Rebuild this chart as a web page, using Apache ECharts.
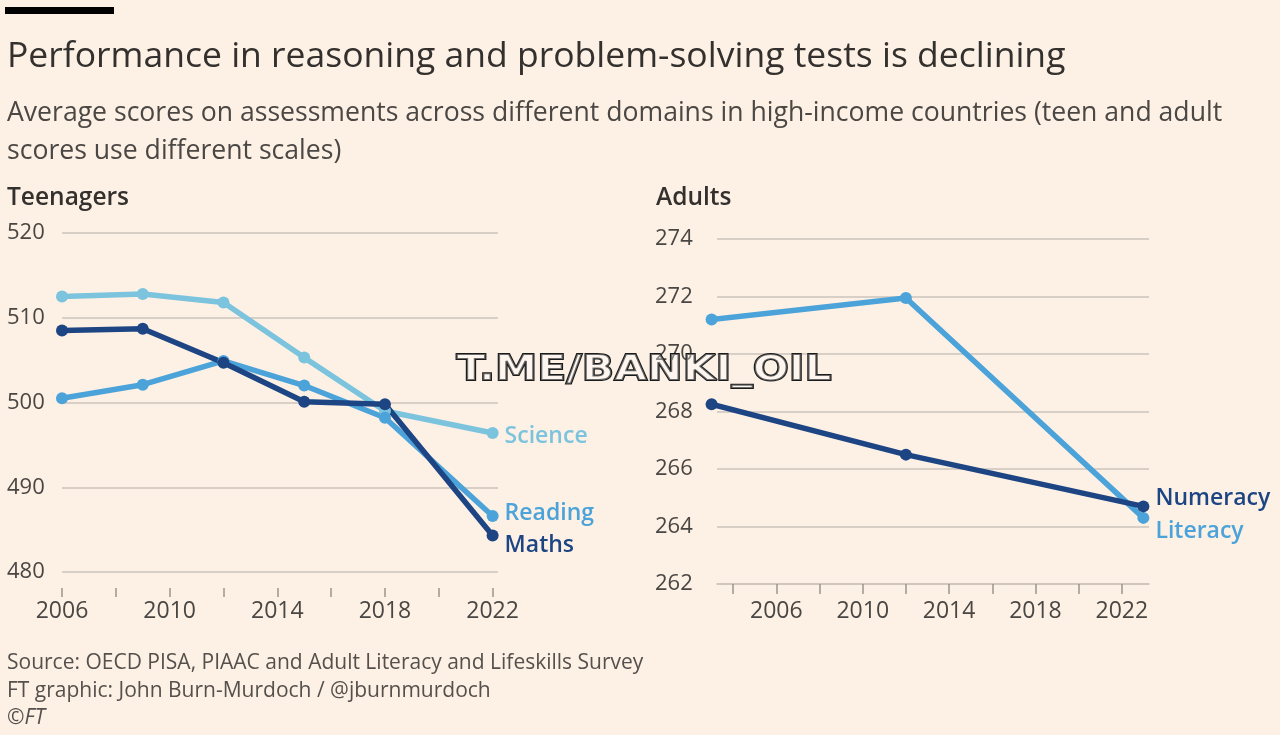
<!DOCTYPE html>
<html><head><meta charset="utf-8">
<script src="https://cdn.jsdelivr.net/npm/echarts@6/dist/echarts.min.js"></script>
<style>html,body{margin:0;padding:0;background:#fdf1e5;} #c{width:1280px;height:735px;}</style>
</head><body><div id="c"></div>
<script>
// ---- data ----
const teenYears = [2006, 2009, 2012, 2015, 2018, 2022];
const science = [512.5, 512.8, 511.8, 505.3, 499.0, 496.4];
const reading = [500.5, 502.1, 504.9, 502.0, 498.2, 486.6];
const maths = [508.5, 508.7, 504.7, 500.1, 499.8, 484.3];
const adultYears = [2003, 2012, 2023];
const literacy = [271.2, 271.95, 264.3];
const numeracy = [268.25, 266.5, 264.7];
const teenXTicks = [2006, 2008, 2010, 2012, 2014, 2016, 2018, 2020, 2022];
const teenXLabels = [2006, 2010, 2014, 2018, 2022];
const adultXTicks = [2004, 2006, 2008, 2010, 2012, 2014, 2016, 2018, 2020, 2022];
const adultXLabels = [2006, 2010, 2014, 2018, 2022];

const FONT = '"Open Sans", "Noto Sans", sans-serif';
const TXT = '#33302e';
const AX = '#4a4643';
const GRID = '#cbc3bb';
const C_SCI = '#7cc3de';
const C_READ = '#4ba3d9';
const C_MATH = '#1d4584';

function pts(xs, ys) { return xs.map((x, i) => [x, ys[i]]); }

function lineSeries(name, xs, ys, color, axisIdx, dy) {
  return {
    name: name, type: 'line', xAxisIndex: axisIdx, yAxisIndex: axisIdx,
    data: pts(xs, ys), clip: false,
    symbol: 'circle', symbolSize: 12, showSymbol: true,
    lineStyle: { color: color, width: 5.5 }, itemStyle: { color: color },
    endLabel: { show: true, formatter: name, color: color, fontSize: 23, fontWeight: 600,
      fontFamily: FONT, distance: 12, offset: [0, dy] },
    emphasis: { disabled: true }, animation: false
  };
}

const chart = echarts.init(document.getElementById('c'), null, { renderer: 'canvas' });
const yLabel = { fontSize: 22, color: AX, fontFamily: FONT, align: 'left' };
const yearFmt = v => String(Math.round(v));
chart.setOption({
  backgroundColor: '#fdf1e5',
  animation: false,
  grid: [
    { left: 62, top: 233, width: 436, height: 339 },
    { left: 717, top: 239, width: 432, height: 345 }
  ],
  xAxis: [
    { type: 'value', gridIndex: 0, min: 2006, max: 2022.2, offset: 16,
      axisLine: { show: false },
      axisTick: { show: true, length: 9, customValues: teenXTicks, lineStyle: { color: '#9c948c', width: 1.5 } },
      axisLabel: { customValues: teenXLabels, formatter: yearFmt, margin: 12, fontSize: 23, color: AX, fontFamily: FONT },
      splitLine: { show: false } },
    { type: 'value', gridIndex: 1, min: 2003.25, max: 2023.26,
      axisLine: { show: true, lineStyle: { color: GRID, width: 1.5 } },
      axisTick: { show: true, length: 10, customValues: adultXTicks, lineStyle: { color: '#9c948c', width: 1.5 } },
      axisLabel: { customValues: adultXLabels, formatter: yearFmt, margin: 16, fontSize: 23, color: AX, fontFamily: FONT },
      splitLine: { show: false } }
  ],
  yAxis: [
    { type: 'value', gridIndex: 0, min: 480, max: 520, interval: 10,
      axisLine: { show: false }, axisTick: { show: false },
      axisLabel: Object.assign({ margin: 55 }, yLabel),
      splitLine: { lineStyle: { color: GRID, width: 1.5 } } },
    { type: 'value', gridIndex: 1, min: 262, max: 274, interval: 2,
      axisLine: { show: false }, axisTick: { show: false },
      axisLabel: Object.assign({ margin: 62 }, yLabel),
      splitLine: { lineStyle: { color: GRID, width: 1.5 } } }
  ],
  series: [
    lineSeries('Science', teenYears, science, C_SCI, 0, 3),
    lineSeries('Reading', teenYears, reading, C_READ, 0, -3),
    lineSeries('Maths', teenYears, maths, C_MATH, 0, 10),
    lineSeries('Literacy', adultYears, literacy, C_READ, 1, 14),
    lineSeries('Numeracy', adultYears, numeracy, C_MATH, 1, -8)
  ],
  graphic: [
    { type: 'rect', shape: { x: 5, y: 7, width: 109, height: 7 }, style: { fill: '#000' } },
    { type: 'text', x: 7, y: 57, style: { text: 'Performance in reasoning and problem-solving tests is declining',
      font: '400 35.5px ' + FONT, fill: TXT, verticalAlign: 'middle' } },
    { type: 'text', x: 7, y: 113, style: { text: 'Average scores on assessments across different domains in high-income countries (teen and adult',
      font: '400 26.6px ' + FONT, fill: '#4b4744', verticalAlign: 'middle' } },
    { type: 'text', x: 7, y: 151, style: { text: 'scores use different scales)',
      font: '400 26.6px ' + FONT, fill: '#4b4744', verticalAlign: 'middle' } },
    { type: 'text', x: 7, y: 198, style: { text: 'Teenagers', font: '600 24.5px ' + FONT, fill: TXT, verticalAlign: 'middle' } },
    { type: 'text', x: 656, y: 198, style: { text: 'Adults', font: '600 24.5px ' + FONT, fill: TXT, verticalAlign: 'middle' } },
    { type: 'text', x: 7, y: 663, style: { text: 'Source: OECD PISA, PIAAC and Adult Literacy and Lifeskills Survey',
      font: '400 21px ' + FONT, fill: '#55504c', verticalAlign: 'middle' } },
    { type: 'text', x: 7, y: 691, style: { text: 'FT graphic: John Burn-Murdoch / @jburnmurdoch',
      font: '400 21px ' + FONT, fill: '#55504c', verticalAlign: 'middle' } },
    { type: 'text', x: 7, y: 718, style: { text: '©FT', font: 'italic 400 21px ' + FONT, fill: '#55504c', verticalAlign: 'middle' } },
    { type: 'text', x: 644, y: 371, z: 100, scaleX: 1.18, style: { text: 'T.ME/BANKI_OIL',
      font: 'bold 36px "DejaVu Sans", sans-serif', fill: 'rgba(255,255,255,0.35)', stroke: '#1b1b1b', lineWidth: 2,
      align: 'center', verticalAlign: 'middle' } }
  ]
});
</script></body></html>
